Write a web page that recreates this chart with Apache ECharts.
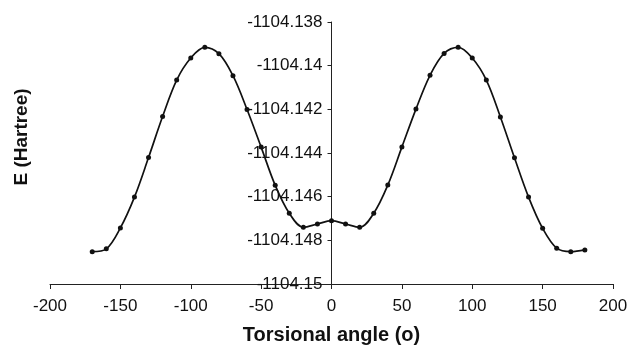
<!DOCTYPE html>
<html>
<head>
<meta charset="utf-8">
<script src="https://cdn.jsdelivr.net/npm/echarts@6/dist/echarts.min.js"></script>
<style>
  html, body { margin: 0; padding: 0; background: #fff; }
  #chart { width: 632px; height: 345px; }
</style>
</head>
<body>
<div id="chart"></div>
<script>
const angles = [
  -170, -160, -150, -140, -130, -120, -110, -100, -90, -80, -70, -60,
  -50, -40, -30, -20, -10, 0, 10, 20, 30, 40, 50, 60, 70, 80, 90, 100,
  110, 120, 130, 140, 150, 160, 170, 180,
];
const energies = [
  -1104.14852, -1104.14839, -1104.14743, -1104.14602, -1104.14421, -1104.14233,
  -1104.14066, -1104.13965, -1104.13916, -1104.13945, -1104.14046, -1104.14201,
  -1104.14373, -1104.14548, -1104.14676, -1104.1474, -1104.14725, -1104.1471,
  -1104.14725, -1104.1474, -1104.14676, -1104.14547, -1104.14373, -1104.14199,
  -1104.14044, -1104.13944, -1104.13916, -1104.13965, -1104.14066, -1104.14235,
  -1104.14422, -1104.14602, -1104.14745, -1104.14836, -1104.14852, -1104.14844,
];
const xName = 'Torsional angle (o)';
const yName = 'E (Hartree)';

const chart = echarts.init(document.getElementById('chart'));
const font = 'Liberation Sans, Arial, sans-serif';

const gridLeft = 50;
const gridRight = 19;
const plotW = 632 - gridLeft - gridRight;
// y axis sits at x = 0, labels are pulled over to it
const zeroOffset = plotW * (0 - -200) / 400;

chart.setOption({
  animation: false,
  grid: {
    left: gridLeft, right: gridRight, top: 22, bottom: 61,
    containLabel: false, outerBoundsMode: 'none',
  },
  xAxis: {
    type: 'value',
    min: -200,
    max: 200,
    interval: 50,
    name: xName,
    nameLocation: 'middle',
    nameGap: 41,
    nameTextStyle: { fontFamily: font, fontSize: 20, fontWeight: 'bold', color: '#111' },
    axisLine: { onZero: false, lineStyle: { color: '#222', width: 1 } },
    axisTick: { show: true, length: 5, lineStyle: { color: '#222' } },
    axisLabel: { fontFamily: font, fontSize: 17, color: '#111', margin: 14 },
    splitLine: { show: false },
  },
  yAxis: {
    type: 'value',
    min: -1104.15,
    max: -1104.138,
    interval: 0.002,
    axisLine: { onZero: true, lineStyle: { color: '#222', width: 1 } },
    axisTick: { show: true, length: 4, lineStyle: { color: '#222' } },
    axisLabel: {
      fontFamily: font,
      fontSize: 17,
      color: '#111',
      margin: 9 - zeroOffset,
      formatter: (v) => String(parseFloat(v.toFixed(3))),
    },
    splitLine: { show: false },
  },
  graphic: [
    {
      type: 'text',
      x: 22,
      y: 137,
      rotation: Math.PI / 2,
      style: {
        text: yName,
        fontFamily: font,
        fontSize: 19,
        fontWeight: 'bold',
        fill: '#111',
        align: 'center',
        verticalAlign: 'middle',
      },
    },
  ],
  series: [
    {
      type: 'line',
      data: angles.map((a, i) => [a, energies[i]]),
      smooth: 0.35,
      symbol: 'circle',
      symbolSize: 5,
      itemStyle: { color: '#111' },
      lineStyle: { color: '#111', width: 1.7 },
    },
  ],
});
</script>
</body>
</html>
